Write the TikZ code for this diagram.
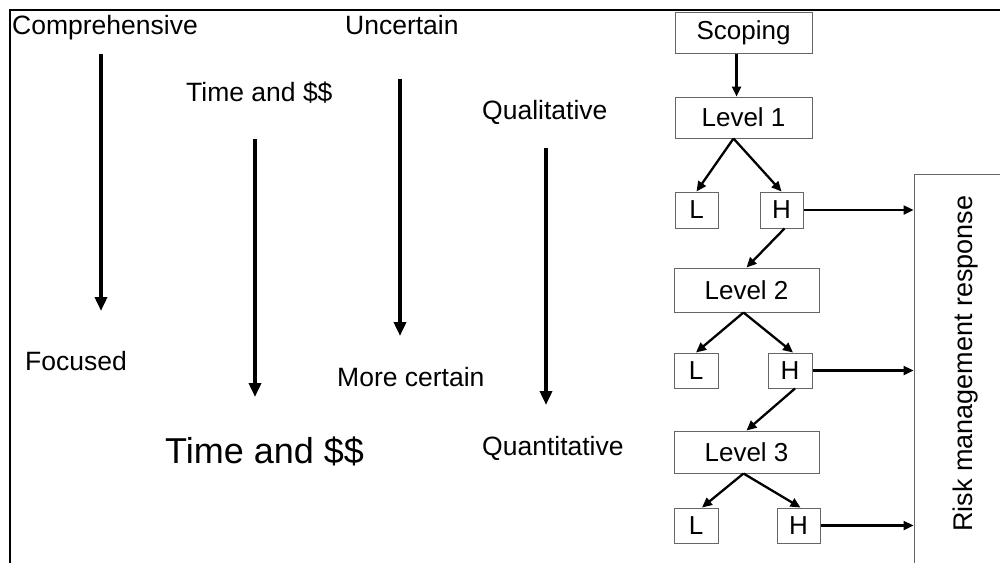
\documentclass[tikz,border=0pt]{standalone}
\usepackage{fontspec}
\setmainfont{Liberation Sans}
\usetikzlibrary{arrows.meta}
\begin{document}
\begin{tikzpicture}[x=1pt,y=-1pt,
  lbl/.style={inner sep=0pt,anchor=base west,font=\fontsize{26.5}{30}\selectfont},
  biglbl/.style={inner sep=0pt,anchor=base west,font=\fontsize{36}{40}\selectfont},
  bigarrow/.style={line width=4pt,-{Triangle[length=14pt,width=12pt]}},
  box/.style={draw=black!60,line width=1pt,inner sep=0pt,font=\fontsize{26}{30}\selectfont},
  treearrow/.style={line width=2.3pt,-{Triangle[length=10pt,width=9pt]}},
  frame/.style={line width=2.5pt}]
\useasboundingbox (0,0) rectangle (1000,562);
\clip (0,0) rectangle (1000,562);
\fill[white] (0,0) rectangle (1000,562);
% frame
\coordinate (ftl) at (10,10);
\coordinate (ftr) at (1001,10);
\coordinate (fbl) at (10,563);
\draw[frame] (ftr) -- (ftl) -- (fbl);
% left labels
\node[lbl] (comp) at (12,34) {Comprehensive};
\node[lbl] (unc) at (345,34) {Uncertain};
\node[lbl] (time1) at (186,101) {Time and \$\$};
\node[lbl] (qual) at (482,119) {Qualitative};
\node[lbl] (foc) at (25,370) {Focused};
\node[lbl] (more) at (337,386) {More certain};
\node[biglbl] (time2) at (165,463) {Time and \$\$};
\node[lbl] (quant) at (482,455) {Quantitative};
% big arrows
\coordinate (a1s) at (101,54);  \coordinate (a1e) at (101,311);
\coordinate (a2s) at (255,139); \coordinate (a2e) at (255,397);
\coordinate (a3s) at (400,79);  \coordinate (a3e) at (400,336);
\coordinate (a4s) at (546,148); \coordinate (a4e) at (546,405);
\draw[bigarrow] (a1s) -- (a1e);
\draw[bigarrow] (a2s) -- (a2e);
\draw[bigarrow] (a3s) -- (a3e);
\draw[bigarrow] (a4s) -- (a4e);
% tree
\node[box,minimum width=137pt,minimum height=41pt] (scop) at (743.5,32.5) {Scoping};
\node[box,minimum width=137pt,minimum height=41pt] (lev1) at (743.5,117.5) {Level 1};
\node[box,minimum width=43pt,minimum height=36pt] (L1) at (696.5,210) {L};
\node[box,minimum width=43pt,minimum height=36pt] (H1) at (781.5,210) {H};
\node[box,minimum width=145pt,minimum height=44pt] (lev2) at (746.5,290) {Level 2};
\node[box,minimum width=44pt,minimum height=35pt] (L2) at (696,370.5) {L};
\node[box,minimum width=44pt,minimum height=35pt] (H2) at (790,370.5) {H};
\node[box,minimum width=145pt,minimum height=42pt] (lev3) at (746.5,452) {Level 3};
\node[box,minimum width=44pt,minimum height=35pt] (L3) at (696,525.5) {L};
\node[box,minimum width=43pt,minimum height=35pt] (H3) at (798.5,525.5) {H};
\node[box,minimum width=100pt,minimum height=410pt] (rm) at (964,379) {};
\node[inner sep=0pt,anchor=base,rotate=90,font=\fontsize{27}{30}\selectfont] (rmtext) at (972,363.5) {Risk management response};
\draw[treearrow] ([xshift=-7pt]scop.south) -- ([xshift=-7pt]lev1.north);
\draw[treearrow] ([xshift=-10pt]lev1.south) -- (L1.north);
\draw[treearrow] ([xshift=-10pt]lev1.south) -- (H1.north);
\draw[treearrow] ([xshift=3pt]H1.south) -- (lev2.north);
\draw[treearrow] ([xshift=-3pt]lev2.south) -- (L2.north);
\draw[treearrow] ([xshift=-3pt]lev2.south) -- ([xshift=3pt]H2.north);
\draw[treearrow] ([xshift=5pt]H2.south) -- (lev3.north);
\draw[treearrow] ([xshift=-3pt]lev3.south) -- ([xshift=6pt]L3.north);
\draw[treearrow] ([xshift=-3pt]lev3.south) -- ([xshift=2pt]H3.north);
\draw[treearrow] (H1.east) -- (H1.east -| rm.west);
\draw[treearrow] (H2.east) -- (H2.east -| rm.west);
\draw[treearrow] (H3.east) -- (H3.east -| rm.west);
\end{tikzpicture}
\end{document}
